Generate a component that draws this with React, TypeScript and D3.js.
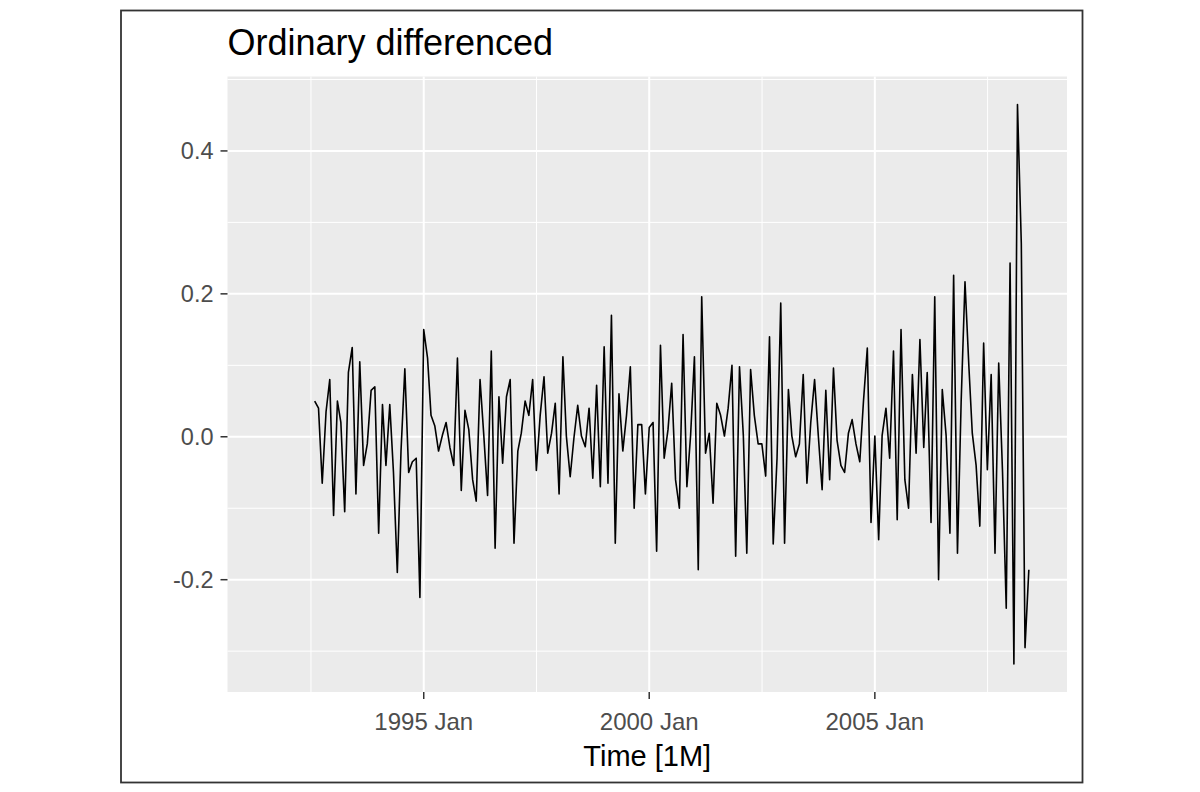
import { useEffect, useRef } from "react";
import * as d3 from "d3";

// Monthly series from 1991 Jul to 2008 Jun. The first 13 months are NA
// (lost by seasonal + ordinary differencing).
const seriesStart = new Date(1991, 6, 1);

const diffValues: (number | null)[] = [
  // 1991 Jul-Dec
  null, null, null, null, null, null,
  // 1992
  null, null, null, null, null, null, null, 0.05, 0.04, -0.065, 0.035, 0.08,
  // 1993
  -0.11, 0.05, 0.02, -0.105, 0.09, 0.125, -0.08, 0.105, -0.04, -0.01, 0.065, 0.07,
  // 1994
  -0.135, 0.045, -0.04, 0.045, -0.05, -0.19, -0.02, 0.095, -0.05, -0.035, -0.03, -0.225,
  // 1995
  0.15, 0.11, 0.03, 0.015, -0.02, 0.002, 0.02, -0.015, -0.04, 0.11, -0.075, 0.037,
  // 1996
  0.01, -0.06, -0.09, 0.08, 0.003, -0.082, 0.12, -0.156, 0.056, -0.037, 0.056, 0.08,
  // 1997
  -0.149, -0.02, 0.005, 0.05, 0.03, 0.08, -0.047, 0.03, 0.084, -0.023, 0.005, 0.047,
  // 1998
  -0.08, 0.112, 0.001, -0.056, -0.002, 0.044, 0.001, -0.014, 0.04, -0.058, 0.072, -0.07,
  // 1999
  0.126, -0.065, 0.17, -0.149, 0.06, -0.02, 0.03, 0.098, -0.1, 0.017, 0.017, -0.08,
  // 2000
  0.013, 0.02, -0.16, 0.128, -0.03, 0.01, 0.075, -0.06, -0.1, 0.143, -0.07, 0.002,
  // 2001
  0.112, -0.186, 0.196, -0.023, 0.005, -0.093, 0.047, 0.03, 0.001, 0.04, 0.1, -0.167,
  // 2002
  0.098, 0.002, -0.163, 0.094, 0.03, -0.01, -0.01, -0.055, 0.14, -0.15, -0.03, 0.187,
  // 2003
  -0.149, 0.066, 0.001, -0.028, -0.01, 0.087, -0.065, 0.02, 0.08, 0.002, -0.074, 0.065,
  // 2004
  -0.06, 0.096, -0.005, -0.04, -0.05, 0.005, 0.024, -0.01, -0.035, 0.05, 0.124, -0.12,
  // 2005
  0.001, -0.144, 0.002, 0.04, -0.03, 0.12, -0.116, 0.15, -0.06, -0.1, 0.087, -0.023,
  // 2006
  0.136, -0.015, 0.09, -0.12, 0.196, -0.2, 0.066, 0.002, -0.135, 0.226, -0.163, 0.05,
  // 2007
  0.217, 0.1, 0.005, -0.04, -0.125, 0.131, -0.046, 0.087, -0.163, 0.103, -0.05, -0.24,
  // 2008 Jan-Jun
  0.243, -0.318, 0.465, 0.27, -0.295, -0.186,
];

const yTicks = [-0.2, 0.0, 0.2, 0.4];
const xTickYears = [1995, 2000, 2005];
const xTickLabels = ["1995 Jan", "2000 Jan", "2005 Jan"];
const chartTitle = "Ordinary differenced";
const xAxisTitle = "Time [1M]";

const FONT = "'Liberation Sans', Arial, sans-serif";

const App = () => {
  const svgRef = useRef<SVGSVGElement | null>(null);

  useEffect(() => {
    if (!svgRef.current) return;
    const svg = d3.select(svgRef.current);
    svg.selectAll("*").remove();

    const panel = { left: 227.5, right: 1067, top: 76.5, bottom: 692 };

    const data = diffValues.map((v, i) => ({
      date: d3.timeMonth.offset(seriesStart, i),
      value: v,
    }));

    // ggplot-like 5% expansion on both axes
    const [d0, d1] = d3.extent(data, (d) => d.date) as [Date, Date];
    const dSpan = +d1 - +d0;
    const x = d3
      .scaleTime()
      .domain([new Date(+d0 - dSpan * 0.05), new Date(+d1 + dSpan * 0.05)])
      .range([panel.left, panel.right]);

    const observed = data.filter((d) => d.value !== null) as { date: Date; value: number }[];
    const [v0, v1] = d3.extent(observed, (d) => d.value) as [number, number];
    const vSpan = v1 - v0;
    const y = d3
      .scaleLinear()
      .domain([v0 - vSpan * 0.05, v1 + vSpan * 0.05])
      .range([panel.bottom, panel.top]);

    // outer frame
    svg
      .append("rect")
      .attr("x", 121)
      .attr("y", 10.5)
      .attr("width", 961.5)
      .attr("height", 772)
      .attr("fill", "#fff")
      .attr("stroke", "#333")
      .attr("stroke-width", 1.8);

    // panel background
    svg
      .append("rect")
      .attr("x", panel.left)
      .attr("y", panel.top)
      .attr("width", panel.right - panel.left)
      .attr("height", panel.bottom - panel.top)
      .attr("fill", "#EBEBEB");

    const grid = svg.append("g");

    // minor grid: midpoints between major breaks
    const yStep = yTicks[1] - yTicks[0];
    const yMinor = d3
      .range(yTicks[0] - yStep, yTicks[yTicks.length - 1] + yStep * 1.01, yStep)
      .map((t) => t + yStep / 2)
      .filter((t) => t >= y.domain()[0] && t <= y.domain()[1]);
    grid
      .selectAll(".y-minor")
      .data(yMinor)
      .enter()
      .append("line")
      .attr("x1", panel.left)
      .attr("x2", panel.right)
      .attr("y1", (d) => y(d))
      .attr("y2", (d) => y(d))
      .attr("stroke", "#fff")
      .attr("stroke-width", 1);

    const majorDates = [xTickYears[0] - 5, ...xTickYears, xTickYears[xTickYears.length - 1] + 5].map(
      (yr) => new Date(yr, 0, 1)
    );
    const xMinor = d3
      .pairs(majorDates)
      .map(([a, b]) => new Date((+a + +b) / 2))
      .filter((d) => d >= x.domain()[0] && d <= x.domain()[1]);
    grid
      .selectAll(".x-minor")
      .data(xMinor)
      .enter()
      .append("line")
      .attr("x1", (d) => x(d))
      .attr("x2", (d) => x(d))
      .attr("y1", panel.top)
      .attr("y2", panel.bottom)
      .attr("stroke", "#fff")
      .attr("stroke-width", 1);

    // major grid
    grid
      .selectAll(".y-major")
      .data(yTicks)
      .enter()
      .append("line")
      .attr("x1", panel.left)
      .attr("x2", panel.right)
      .attr("y1", (d) => y(d))
      .attr("y2", (d) => y(d))
      .attr("stroke", "#fff")
      .attr("stroke-width", 2);

    grid
      .selectAll(".x-major")
      .data(xTickYears)
      .enter()
      .append("line")
      .attr("x1", (d) => x(new Date(d, 0, 1)))
      .attr("x2", (d) => x(new Date(d, 0, 1)))
      .attr("y1", panel.top)
      .attr("y2", panel.bottom)
      .attr("stroke", "#fff")
      .attr("stroke-width", 2);

    // the series
    const line = d3
      .line<{ date: Date; value: number | null }>()
      .defined((d) => d.value !== null)
      .x((d) => x(d.date))
      .y((d) => y(d.value as number));

    svg
      .append("path")
      .datum(data)
      .attr("d", line)
      .attr("fill", "none")
      .attr("stroke", "#000")
      .attr("stroke-width", 1.6)
      .attr("stroke-linejoin", "round");

    // y axis ticks + labels
    const yAxis = svg.append("g");
    yAxis
      .selectAll("line")
      .data(yTicks)
      .enter()
      .append("line")
      .attr("x1", panel.left - 7)
      .attr("x2", panel.left)
      .attr("y1", (d) => y(d))
      .attr("y2", (d) => y(d))
      .attr("stroke", "#333")
      .attr("stroke-width", 1.5);
    yAxis
      .selectAll("text")
      .data(yTicks)
      .enter()
      .append("text")
      .attr("x", panel.left - 14)
      .attr("y", (d) => y(d))
      .attr("dy", "0.36em")
      .attr("text-anchor", "end")
      .style("font-family", FONT)
      .style("font-size", "23.5px")
      .style("fill", "#4D4D4D")
      .text((d) => d.toFixed(1));

    // x axis ticks + labels
    const xAxis = svg.append("g");
    xAxis
      .selectAll("line")
      .data(xTickYears)
      .enter()
      .append("line")
      .attr("x1", (d) => x(new Date(d, 0, 1)))
      .attr("x2", (d) => x(new Date(d, 0, 1)))
      .attr("y1", panel.bottom)
      .attr("y2", panel.bottom + 7)
      .attr("stroke", "#333")
      .attr("stroke-width", 1.5);
    xAxis
      .selectAll("text")
      .data(xTickYears)
      .enter()
      .append("text")
      .attr("x", (d) => x(new Date(d, 0, 1)))
      .attr("y", 730)
      .attr("text-anchor", "middle")
      .style("font-family", FONT)
      .style("font-size", "24px")
      .style("fill", "#4D4D4D")
      .text((d, i) => xTickLabels[i]);

    // axis title
    svg
      .append("text")
      .attr("x", (panel.left + panel.right) / 2)
      .attr("y", 766)
      .attr("text-anchor", "middle")
      .style("font-family", FONT)
      .style("font-size", "29px")
      .style("fill", "#000")
      .text(xAxisTitle);

    // plot title
    svg
      .append("text")
      .attr("x", panel.left)
      .attr("y", 55)
      .attr("text-anchor", "start")
      .style("font-family", FONT)
      .style("font-size", "36px")
      .style("fill", "#000")
      .text(chartTitle);
  }, []);

  return (
    <svg
      ref={svgRef}
      width={1200}
      height={792}
      style={{ position: "absolute", left: 0, top: 0, background: "#fff" }}
    />
  );
};

export default App;
